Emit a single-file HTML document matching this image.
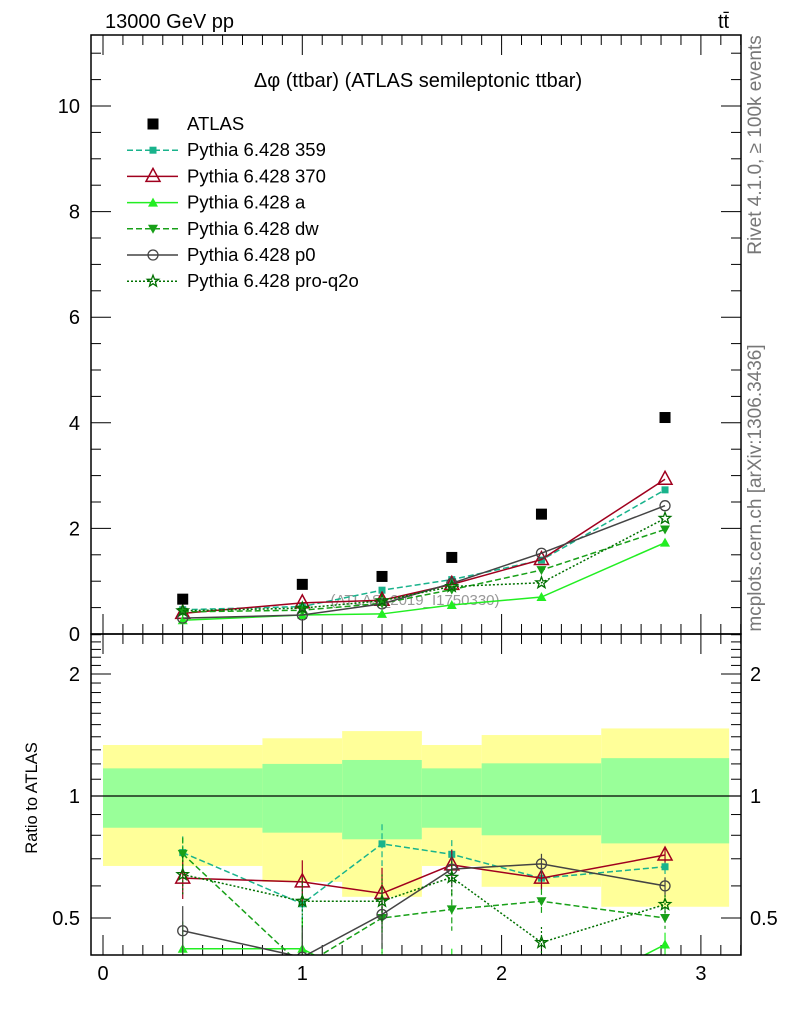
<!DOCTYPE html>
<html><head><meta charset="utf-8"><style>
body{margin:0;background:#fff;}
svg{display:block;font-family:"Liberation Sans",sans-serif;}
</style></head><body>
<svg id="chart" width="786" height="1024" viewBox="0 0 786 1024" xmlns="http://www.w3.org/2000/svg">
<defs>
<clipPath id="clipMain"><rect x="91" y="35" width="650" height="599"/></clipPath>
<clipPath id="clipRatio"><rect x="91" y="634" width="650" height="321"/></clipPath>
</defs>
<text x="105" y="28" font-size="20">13000 GeV pp</text>
<text x="718" y="28" font-size="20">tt̄</text>
<text x="418" y="87" font-size="20" text-anchor="middle">Δφ (ttbar) (ATLAS semileptonic ttbar)</text>
<text transform="translate(761,145) rotate(-90)" font-size="19" fill="#777" text-anchor="middle">Rivet 4.1.0, ≥ 100k events</text>
<text transform="translate(761,488) rotate(-90)" font-size="19" fill="#777" text-anchor="middle">mcplots.cern.ch [arXiv:1306.3436]</text>
<text transform="translate(37,798) rotate(-90)" font-size="16.5" text-anchor="middle">Ratio to ATLAS</text>
<g id="bands" clip-path="url(#clipRatio)"></g>
<g id="grid"></g>
<text x="415" y="605" font-size="15" fill="#999" text-anchor="middle">(ATLAS_2019_I1750330)</text>
<g id="mainG" clip-path="url(#clipMain)"></g>
<g id="ratioG" clip-path="url(#clipRatio)"></g>
<g id="legend"></g>
<rect x="91" y="35" width="650" height="599" fill="none" stroke="#000" stroke-width="1.5"/>
<rect x="91" y="634" width="650" height="321" fill="none" stroke="#000" stroke-width="1.5"/>
</svg>
<script>
const xs = [0.4, 1.0, 1.4, 1.75, 2.2, 2.82];
const binEdges = [0, 0.8, 1.2, 1.6, 1.9, 2.5, 3.1416];
const atlas = [0.66, 0.94, 1.09, 1.45, 2.27, 4.10];
const v359 = [0.46, 0.52, 0.83, 1.03, 1.40, 2.73];
const v370 = [0.39, 0.59, 0.64, 0.94, 1.41, 2.93];
const vA = [0.26, 0.36, 0.38, 0.55, 0.70, 1.73];
const vDw = [0.42, 0.45, 0.58, 0.84, 1.21, 1.98];
const vP0 = [0.30, 0.36, 0.57, 0.96, 1.53, 2.43];
const vQ2o = [0.44, 0.49, 0.63, 0.90, 0.97, 2.19];
const r359 = [0.725, 0.542, 0.762, 0.718, 0.627, 0.669];
const r370 = [0.627, 0.614, 0.575, 0.676, 0.627, 0.715];
const rA = [0.42, 0.42, 0.33, 0.36, 0.30, 0.43];
const rDw = [0.72, 0.38, 0.50, 0.525, 0.55, 0.50];
const rP0 = [0.465, 0.40, 0.51, 0.66, 0.68, 0.60];
const rQ2o = [0.64, 0.55, 0.55, 0.63, 0.435, 0.54];
const rErr = [0.07, 0.08, 0.09, 0.06, 0.04, 0.03];
const yellowHi = [1.336, 1.388, 1.446, 1.336, 1.414, 1.468];
const yellowLo = [0.672, 0.614, 0.564, 0.672, 0.597, 0.533];
const greenHi = [1.17, 1.20, 1.227, 1.17, 1.204, 1.24];
const greenLo = [0.835, 0.812, 0.782, 0.835, 0.80, 0.764];
const mainYTicks = [0, 2, 4, 6, 8, 10];
const xTicks = [0, 1, 2, 3];
const ratioYTicks = [0.5, 1, 2];

const NS = "http://www.w3.org/2000/svg";
const X = v => 103 + v * 199.3;
const Y = v => 634 - v * 52.8;
const R = v => 796 - Math.log2(v) * 122;
function mk(tag, attrs, parent) {
  const e = document.createElementNS(NS, tag);
  for (const k in attrs) e.setAttribute(k, attrs[k]);
  parent.appendChild(e);
  return e;
}
const grid = document.getElementById('grid');
const bands = document.getElementById('bands');
const mainG = document.getElementById('mainG');
const ratioG = document.getElementById('ratioG');
const legend = document.getElementById('legend');

for (let i = 0; i < binEdges.length - 1; i++) {
  const x0 = X(binEdges[i]), x1 = X(binEdges[i + 1]);
  const yb = mk('rect', {x: x0, y: R(yellowHi[i]), width: x1 - x0, height: R(yellowLo[i]) - R(yellowHi[i]), fill: '#ffff99'}, bands);
  
  
  const gb = mk('rect', {x: x0, y: R(greenHi[i]), width: x1 - x0, height: R(greenLo[i]) - R(greenHi[i]), fill: '#99ff99'}, bands);
  
  
}
const one = mk('line', {x1: 91, x2: 741, y1: R(1), y2: R(1), stroke: '#000', 'stroke-width': 1.2}, grid);



for (let i = 0; i <= 32; i++) {
  const v = i / 10, px = X(v);
  if (px > 741) break;
  const major = i % 10 === 0;
  const L = major ? 20 : 10;
  mk('line', {x1: px, x2: px, y1: 634, y2: 634 - L, stroke: '#000'}, grid);
  mk('line', {x1: px, x2: px, y1: 35, y2: 35 + L, stroke: '#000'}, grid);
  mk('line', {x1: px, x2: px, y1: 955, y2: 955 - L, stroke: '#000'}, grid);
  mk('line', {x1: px, x2: px, y1: 634, y2: 634 + L, stroke: '#000'}, grid);
}
xTicks.forEach(v => {
  const t = mk('text', {x: X(v), y: 980, 'font-size': 20, 'text-anchor': 'middle'}, grid);
  t.textContent = v;
  
  
});
for (let i = 0; i <= 22; i++) {
  const v = i * 0.5, py = Y(v);
  if (py < 35) break;
  const L = i % 4 === 0 ? 20 : 10;
  mk('line', {x1: 91, x2: 91 + L, y1: py, y2: py, stroke: '#000'}, grid);
  mk('line', {x1: 741, x2: 741 - L, y1: py, y2: py, stroke: '#000'}, grid);
}
mainYTicks.forEach(v => {
  const t = mk('text', {x: 80, y: Y(v) + 7, 'font-size': 20, 'text-anchor': 'end'}, grid);
  t.textContent = v;
  
  
});
for (let i = 4; i <= 25; i++) {
  const v = i / 10, py = R(v);
  if (py < 634 || py > 955) continue;
  const L = (i === 5 || i === 10 || i === 20) ? 20 : 10;
  mk('line', {x1: 91, x2: 91 + L, y1: py, y2: py, stroke: '#000'}, grid);
  mk('line', {x1: 741, x2: 741 - L, y1: py, y2: py, stroke: '#000'}, grid);
}
ratioYTicks.forEach(v => {
  const t = mk('text', {x: 80, y: R(v) + 7, 'font-size': 20, 'text-anchor': 'end'}, grid);
  t.textContent = v;
  
  
  const t2 = mk('text', {x: 750, y: R(v) + 7, 'font-size': 20}, grid);
  t2.textContent = v;
  
  
});

function marker(type, cx, cy, color, parent) {
  let e;
  if (type === 'bigsq') e = mk('rect', {x: cx - 5.5, y: cy - 5.5, width: 11, height: 11, fill: color}, parent);
  else if (type === 'sq') e = mk('rect', {x: cx - 3.5, y: cy - 3.5, width: 7, height: 7, fill: color}, parent);
  else if (type === 'otri') e = mk('polygon', {points: `${cx},${cy-8} ${cx-7},${cy+5} ${cx+7},${cy+5}`, fill: 'none', stroke: color, 'stroke-width': 1.5}, parent);
  else if (type === 'tri') e = mk('polygon', {points: `${cx},${cy-5} ${cx-5},${cy+4} ${cx+5},${cy+4}`, fill: color}, parent);
  else if (type === 'dtri') e = mk('polygon', {points: `${cx},${cy+5} ${cx-5},${cy-4} ${cx+5},${cy-4}`, fill: color}, parent);
  else if (type === 'circ') e = mk('circle', {cx: cx, cy: cy, r: 5, fill: 'none', stroke: color, 'stroke-width': 1.3}, parent);
  else {
    let p = [];
    for (let k = 0; k < 10; k++) {
      const a = -Math.PI / 2 + k * Math.PI / 5, rr = k % 2 ? 2.5 : 6;
      p.push((cx + rr * Math.cos(a)).toFixed(1) + ',' + (cy + rr * Math.sin(a)).toFixed(1));
    }
    e = mk('polygon', {points: p.join(' '), fill: 'none', stroke: color, 'stroke-width': 1.3}, parent);
  }
  return e;
}
const series = [
  {name: 'Pythia 6.428 359', key: 'series-359', v: v359, r: r359, color: '#19b38c', dash: '6,3', m: 'sq'},
  {name: 'Pythia 6.428 370', key: 'series-370', v: v370, r: r370, color: '#a0001e', dash: '', m: 'otri'},
  {name: 'Pythia 6.428 a', key: 'series-a', v: vA, r: rA, color: '#22ee22', dash: '', m: 'tri'},
  {name: 'Pythia 6.428 dw', key: 'series-dw', v: vDw, r: rDw, color: '#18a018', dash: '6,3', m: 'dtri'},
  {name: 'Pythia 6.428 p0', key: 'series-p0', v: vP0, r: rP0, color: '#444444', dash: '', m: 'circ'},
  {name: 'Pythia 6.428 pro-q2o', key: 'series-pro-q2o', v: vQ2o, r: rQ2o, color: '#007000', dash: '2,2', m: 'star'}
];
series.forEach(s => {
  const pl = mk('polyline', {points: xs.map((x, i) => X(x) + ',' + Y(s.v[i])).join(' '), fill: 'none', stroke: s.color, 'stroke-width': 1.5, 'stroke-dasharray': s.dash}, mainG);
  
  
  xs.forEach((x, i) => {
    const m = marker(s.m, X(x), Y(s.v[i]), s.color, mainG);
    
    
  });
  const rl = mk('polyline', {points: xs.map((x, i) => X(x) + ',' + R(s.r[i])).join(' '), fill: 'none', stroke: s.color, 'stroke-width': 1.5, 'stroke-dasharray': s.dash}, ratioG);
  
  
  xs.forEach((x, i) => {
    const eb = mk('line', {x1: X(x), x2: X(x), y1: R(s.r[i] + rErr[i]), y2: R(Math.max(0.05, s.r[i] - rErr[i])), stroke: s.color, 'stroke-width': 1.2, 'stroke-dasharray': s.dash}, ratioG);
    
    
    const m = marker(s.m, X(x), R(s.r[i]), s.color, ratioG);
    
    
  });
});
xs.forEach((x, i) => {
  const m = marker('bigsq', X(x), Y(atlas[i]), '#000', mainG);
  
  
});
const legItems = [{name: 'ATLAS', key: 'atlas', color: '#000', dash: null, m: 'bigsq'}].concat(series);
legItems.forEach((s, i) => {
  const y = 124 + i * 26.2;
  const g = mk('g', {}, legend);
  
  
  if (s.dash !== null) mk('line', {x1: 127, x2: 178, y1: y, y2: y, stroke: s.color, 'stroke-width': 1.5, 'stroke-dasharray': s.dash}, g);
  marker(s.m, 153, y, s.color, g);
  const t = mk('text', {x: 187, y: y + 6, 'font-size': 18.5}, g);
  t.textContent = s.name;
});
</script>
</body></html>
